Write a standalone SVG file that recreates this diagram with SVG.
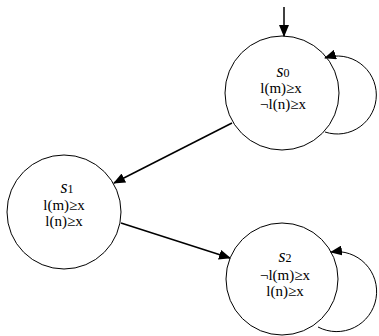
<svg xmlns="http://www.w3.org/2000/svg" width="379" height="336" viewBox="0 0 379 336">
<style>
.st{fill:none;stroke:#000;stroke-width:1}
.t{font-family:"Liberation Serif","Times New Roman",serif;font-size:15px;fill:#000;text-anchor:middle}
.n{font-style:italic;font-size:18px}
.sub{font-size:12px}
.e{fill:none;stroke:#000;stroke-width:1.5;marker-end:url(#ah)}
.l{fill:none;stroke:#000;stroke-width:1;marker-end:url(#ah)}
</style>
<defs>
<marker id="ah" markerUnits="userSpaceOnUse" markerWidth="12" markerHeight="10" refX="11" refY="5" orient="auto">
<path d="M0,0 L12,5 L0,10 Z" fill="#000"/>
</marker>
</defs>
<g id="connectors">
<line class="e" x1="284" y1="7" x2="284" y2="36"/>
<path class="l" d="M325,132 A39,39 0 1,0 325,58"/>
<line class="e" x1="232" y1="123" x2="114" y2="183"/>
<line class="e" x1="121" y1="223" x2="230" y2="258"/>
<path class="l" d="M318,327 A40,40 0 1,0 331,252"/>
</g>
<g id="s0">
<circle class="st" cx="282" cy="93" r="57"/>
<text class="t" x="283" y="77"><tspan class="n">s</tspan><tspan class="sub">0</tspan></text>
<text class="t" x="281" y="93">l(m)≥x</text>
<text class="t" x="283" y="109">¬l(n)≥x</text>
</g>
<g id="s1">
<circle class="st" cx="64" cy="212" r="57"/>
<text class="t" x="67" y="193"><tspan class="n">s</tspan><tspan class="sub">1</tspan></text>
<text class="t" x="64" y="210">l(m)≥x</text>
<text class="t" x="64" y="226">l(n)≥x</text>
</g>
<g id="s2">
<circle class="st" cx="282" cy="279" r="56"/>
<text class="t" x="285" y="262"><tspan class="n">s</tspan><tspan class="sub">2</tspan></text>
<text class="t" x="285" y="280">¬l(m)≥x</text>
<text class="t" x="285" y="296">l(n)≥x</text>
</g>
</svg>
